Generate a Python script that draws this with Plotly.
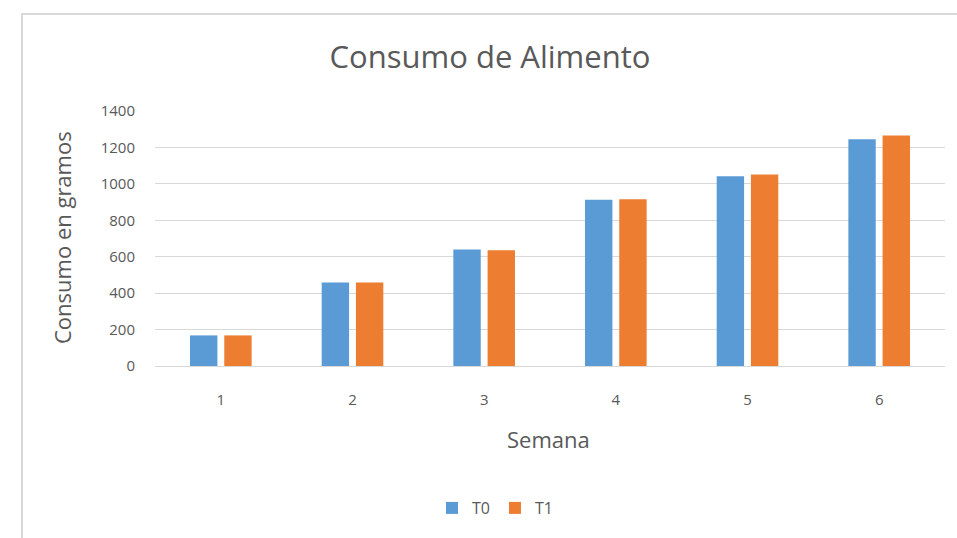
import plotly.graph_objects as go

weeks = ["1", "2", "3", "4", "5", "6"]
t0 = [168, 458, 640, 913, 1042, 1245]
t1 = [168, 458, 636, 915, 1052, 1265]
series_names = ["T0", "T1"]
colors = ["#5B9BD5", "#ED7D31"]

W, H = 957, 538
L, R, T, B = 155, 12, 111, 172
PW, PH = W - L - R, H - T - B

fig = go.Figure()
for name, vals, c in zip(series_names, [t0, t1], colors):
    fig.add_trace(go.Bar(x=weeks, y=vals, name=name, marker_color=c, marker_line_width=0))

font = "Open Sans, Liberation Sans, sans-serif"
grey = "#595959"
fig.update_layout(
    width=W, height=H,
    margin=dict(l=L, r=R, t=T, b=B),
    paper_bgcolor="white", plot_bgcolor="white",
    barmode="group", bargap=0.48, bargroupgap=0.2,
    font=dict(family=font, color=grey, size=15),
    title=dict(text="Consumo de Alimento", x=(490 - L) / PW, xref="paper", xanchor="center",
               y=1 - 57 / H, yanchor="middle",
               font=dict(size=31, color=grey, family=font)),
    showlegend=True,
    legend=dict(orientation="h", x=(495 - L) / PW, xanchor="center",
                y=-(508 - (H - B)) / PH, yanchor="middle",
                font=dict(size=16, color=grey), itemwidth=30),
    xaxis=dict(showgrid=False, showline=True, linecolor="#d9d9d9", linewidth=1,
               ticks="outside", ticklen=20, tickcolor="rgba(0,0,0,0)",
               tickfont=dict(size=15, color=grey)),
    yaxis=dict(range=[0, 1400], dtick=200, showgrid=True, gridcolor="#d9d9d9", gridwidth=1,
               zeroline=False, ticks="outside", ticklen=16, tickcolor="rgba(0,0,0,0)",
               tickfont=dict(size=15, color=grey)),
    annotations=[
        dict(text="Semana", xref="paper", yref="paper", x=(548 - L) / PW,
             y=-(439 - (H - B)) / PH, showarrow=False, yanchor="middle",
             font=dict(size=22, color=grey, family=font)),
        dict(text="Consumo en gramos", xref="paper", yref="paper", x=-(L - 62) / PW,
             y=(366 - 238) / PH, showarrow=False, textangle=-90, xanchor="center", yanchor="middle",
             font=dict(size=22, color=grey, family=font)),
    ],
    shapes=[
        dict(type="rect", xref="paper", yref="paper",
             x0=-(L - 22) / PW, x1=1 + 40 / PW,
             y0=-(B + 40) / PH, y1=1 + (T - 14) / PH,
             line=dict(color="#d9d9d9", width=2), fillcolor="rgba(0,0,0,0)", layer="below"),
    ],
)

fig.write_html("out.html")
